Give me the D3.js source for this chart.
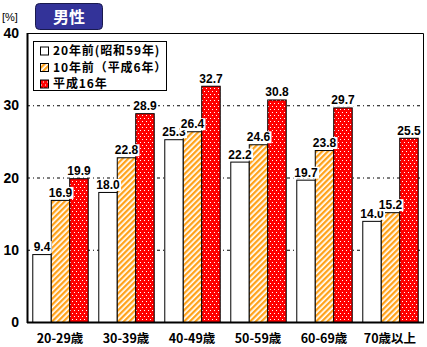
<!DOCTYPE html>
<html><head><meta charset="utf-8">
<script src="https://cdn.jsdelivr.net/npm/d3@7/dist/d3.min.js"></script>
<style>body{margin:0;background:#fff}svg{display:block}</style>
</head><body>
<svg id="c" width="427" height="347"></svg>
<script>
const categories = ["20-29歳","30-39歳","40-49歳","50-59歳","60-69歳","70歳以上"];
const seriesNames = ["20年前(昭和59年)","10年前（平成6年）","平成16年"];
const s1984 = [9.4, 18.0, 25.3, 22.2, 19.7, 14.0];
const s1994 = [16.9, 22.8, 26.4, 24.6, 23.8, 15.2];
const s2004 = [19.9, 28.9, 32.7, 30.8, 29.7, 25.5];
const yTicks = [0, 10, 20, 30, 40];
const title = "男性";
const unitLabel = "[%]";

const seriesValues = [s1984, s1994, s2004];
const svg = d3.select("#c");
const L = 27, R = 423, T = 33, B = 322;
const jp = "'Noto Sans CJK JP','Liberation Sans',sans-serif";
const num = "'Liberation Sans',Arial,sans-serif";

const defs = svg.append("defs");
const stripe = defs.append("pattern").attr("id","stripe").attr("patternUnits","userSpaceOnUse")
  .attr("width",4).attr("height",4).attr("patternTransform","rotate(45)");
stripe.append("rect").attr("width",4).attr("height",4).attr("fill","#fff");
stripe.append("rect").attr("width",2.3).attr("height",4).attr("fill","#FFA21A");
const dots = defs.append("pattern").attr("id","dots").attr("patternUnits","userSpaceOnUse")
  .attr("width",4).attr("height",6);
dots.append("rect").attr("width",4).attr("height",6).attr("fill","#FF0000");
dots.append("rect").attr("x",1).attr("y",1).attr("width",1).attr("height",1).attr("fill","#fff");
dots.append("rect").attr("x",3).attr("y",4).attr("width",1).attr("height",1).attr("fill","#fff");
const fills = ["#fff","url(#stripe)","url(#dots)"];

const x0 = d3.scaleBand().domain(categories).range([L, R]).padding(0);
const x1 = d3.scaleBand().domain(d3.range(3)).range([x0.bandwidth()*0.08, x0.bandwidth()*0.92]).padding(0);
const y = d3.scaleLinear().domain([0, 40]).range([B, T]);

// grid lines
svg.append("g").selectAll("line").data(yTicks.filter(t => t > 0 && t < 40)).join("line")
  .attr("x1", L).attr("x2", R).attr("y1", d => y(d)+0.5).attr("y2", d => y(d)+0.5)
  .attr("stroke","#000").attr("stroke-width",1).attr("stroke-dasharray","3,3,1,3");

// bars
const g = svg.append("g").selectAll("g").data(categories).join("g")
  .attr("transform", d => `translate(${x0(d)},0)`);
g.selectAll("rect").data((c, ci) => seriesValues.map((s, si) => ({si, v: s[ci]}))).join("rect")
  .attr("x", d => x1(d.si)+0.5).attr("y", d => y(d.v)+0.5)
  .attr("width", x1.bandwidth()).attr("height", d => B - y(d.v))
  .attr("fill", d => fills[d.si]).attr("stroke","#000").attr("stroke-width",1);

// value labels
const lab = g.selectAll("g.lab").data((c, ci) => seriesValues.map((s, si) => ({si, v: s[ci]}))).join("g").attr("class","lab");
lab.each(function(d){
  const sel = d3.select(this);
  const cx = x1(d.si) + x1.bandwidth()/2 + 0.5;
  const t = sel.append("text").attr("x", cx).attr("y", y(d.v) - 3)
    .attr("text-anchor","middle").attr("font-family", num).attr("font-weight","bold")
    .attr("font-size", 12).text(d.v.toFixed(1));
  const bb = t.node().getBBox();
  sel.insert("rect","text").attr("x", bb.x-1).attr("y", bb.y+1).attr("width", bb.width+2).attr("height", bb.height-2).attr("fill","#fff");
});

// frame
svg.append("path").attr("d", `M${L+0.5},${B}V${T+0.5}H${R+0.5}V${B}`).attr("fill","none").attr("stroke","#000").attr("stroke-width",1);
svg.append("line").attr("x1", L).attr("x2", R+1).attr("y1", B+0.5).attr("y2", B+0.5).attr("stroke","#000").attr("stroke-width",2);
svg.append("line").attr("x1", L+0.5).attr("x2", L+0.5).attr("y1", T).attr("y2", B+1).attr("stroke","#000").attr("stroke-width",2);

// y axis labels
svg.append("g").selectAll("text").data(yTicks).join("text")
  .attr("x", 19).attr("y", d => y(d)+5).attr("text-anchor","end")
  .attr("font-family", num).attr("font-weight","bold").attr("font-size",14).text(d => d);
svg.append("text").attr("x",2).attr("y",21).attr("font-family", num).attr("font-size",11).text(unitLabel);

// x labels
svg.append("g").selectAll("text").data(categories).join("text")
  .attr("x", d => x0(d) + x0.bandwidth()/2).attr("y", 343).attr("text-anchor","middle")
  .attr("font-family", jp).attr("font-weight","bold").attr("font-size",12.5).text(d => d);

// title box
svg.append("rect").attr("x",35.5).attr("y",3.5).attr("width",67).attr("height",26).attr("rx",4)
  .attr("fill","#333399").attr("stroke","#1a1a4d").attr("stroke-width",1);
svg.append("text").attr("x",69).attr("y",23).attr("text-anchor","middle").attr("fill","#fff")
  .attr("font-family", jp).attr("font-weight","bold").attr("font-size",16).text(title);

// legend
svg.append("rect").attr("x",33.5).attr("y",41.5).attr("width",133).attr("height",49)
  .attr("fill","#fff").attr("stroke","#000").attr("stroke-width",1);
const lg = svg.append("g").selectAll("g").data(seriesNames).join("g")
  .attr("transform", (d,i) => `translate(40,${50.5 + i*16.5})`);
lg.append("rect").attr("x",0.5).attr("y",-3.5).attr("width",8).attr("height",8)
  .attr("fill", (d,i) => fills[i]).attr("stroke","#000");
lg.append("text").attr("x",13).attr("y",4.5).attr("font-family", jp).attr("font-weight","bold")
  .attr("font-size",12).attr("letter-spacing",0.9).text(d => d);
</script>
</body></html>
